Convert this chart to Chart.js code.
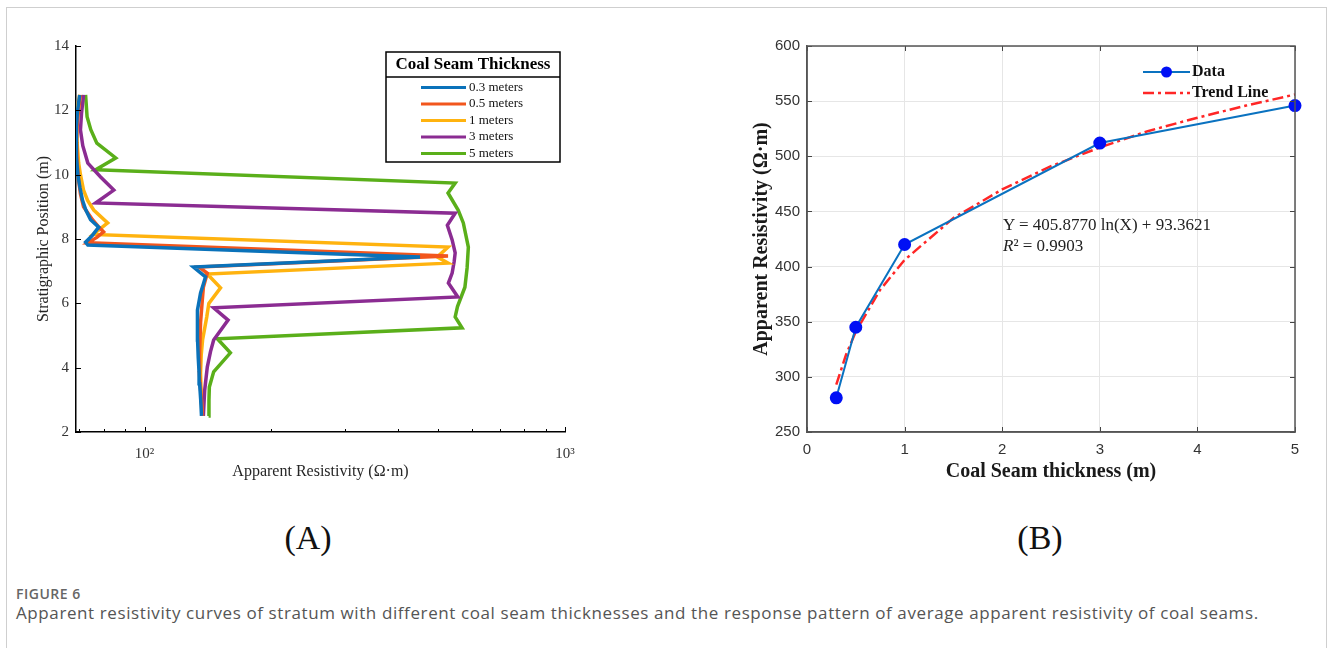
<!DOCTYPE html>
<html>
<head>
<meta charset="utf-8">
<title>Figure 6</title>
<script src="https://cdn.jsdelivr.net/npm/chart.js@4.4.1/dist/chart.umd.min.js"></script>
<style>
  body { margin: 0; background: #fff; }
  #page { position: relative; width: 1330px; height: 648px; overflow: hidden; }
  #frame { position: absolute; left: 6px; top: 7px; width: 1319px; height: 700px; border: 1px solid #cfcfcf; }
  canvas { position: absolute; top: 0; }
  #chartA { left: 0; }
  #chartB { left: 680px; }
  .panel { position: absolute; top: 518px; width: 100px; text-align: center; font: 34px "Liberation Serif", serif; line-height: 40px; color: #111; }
  .eq { position: absolute; left: 1003px; font: 17px "Liberation Serif", serif; line-height: 20px; color: #222; white-space: nowrap; }
  #figLabel { position: absolute; left: 16px; top: 586px; font: 600 14px "Open Sans", sans-serif; line-height: 16px; color: #666; letter-spacing: 0.5px; }
  #caption { position: absolute; left: 16px; top: 602px; font: 17px "Open Sans", sans-serif; line-height: 22px; color: #555; white-space: nowrap; letter-spacing: 0.6px; }
</style>
</head>
<body>
<div id="page">
  <div id="frame"></div>
  <canvas id="chartA" width="620" height="500"></canvas>
  <canvas id="chartB" width="650" height="500"></canvas>
  <div class="eq" style="top:215px">Y = 405.8770 ln(X) + 93.3621</div>
  <div class="eq" style="top:236px"><i>R</i>² = 0.9903</div>
  <div class="panel" style="left:258px">(A)</div>
  <div class="panel" style="left:990px">(B)</div>
  <div id="figLabel">FIGURE 6</div>
  <div id="caption">Apparent resistivity curves of stratum with different coal seam thicknesses and the response pattern of average apparent resistivity of coal seams.</div>
</div>
<script>
// ---- panel A: apparent resistivity vs depth, one curve per seam thickness ----
const legendTitle = "Coal Seam Thickness";
const seamLabels = ["0.3 meters", "0.5 meters", "1 meters", "3 meters", "5 meters"];
const seamColors = ["#0A72BA", "#F2561D", "#FFB30F", "#8B2C92", "#5AAF1A"];

const depth03 = [2.5, 3.0, 3.5, 3.84, 4.3, 4.86, 5.3, 5.79, 6.32, 6.6, 6.82, 7.13, 7.44, 7.81, 7.9, 8.1, 8.37, 8.6, 8.9, 9.2, 9.6, 10.0, 10.5, 11.0, 11.5, 12.0, 12.48];
const rho03 = [136.6, 136, 135.2, 134.8, 134.2, 133.7, 133.5, 133.7, 135.9, 138, 139.6, 130.7, 452, 73.3, 72.4, 75, 77.8, 74.4, 72.5, 71.2, 70.2, 69.4, 68.9, 68.8, 68.9, 69.3, 70.1];

const depth05 = [2.5, 3.0, 3.84, 4.5, 5.4, 6.1, 6.5, 6.94, 7.13, 7.47, 7.88, 8.05, 8.22, 8.4, 8.6, 9.0, 9.4, 9.83, 10.4, 11.08, 11.6, 12.1, 12.48];
const rho05 = [137.3, 136.5, 135, 135.2, 135.9, 137.2, 138, 141, 134.6, 527, 73.3, 77, 79.9, 77.5, 75.2, 71.6, 70.4, 69.7, 69.1, 68.9, 69.2, 69.8, 70.4];

const depth1 = [2.5, 3.2, 3.84, 4.4, 4.86, 5.58, 6.0, 6.48, 6.91, 7.25, 7.44, 7.75, 8.14, 8.5, 8.9, 9.2, 9.52, 10.0, 10.36, 11.0, 11.6, 12.1, 12.48];
const rho1 = [137, 136.3, 135.9, 136.4, 137.4, 140.6, 142.2, 151.6, 141, 527, 497, 527, 75.5, 81.7, 75.7, 73.2, 71.6, 70.4, 69.7, 69.1, 68.9, 69.3, 70.1];

const depth3 = [2.5, 3.3, 4.02, 4.5, 4.86, 5.48, 5.86, 6.2, 6.63, 6.94, 7.3, 7.57, 7.97, 8.43, 8.8, 9.12, 9.52, 9.93, 10.36, 10.9, 11.39, 11.9, 12.48];
const rho3 = [138, 139, 141, 143.5, 146, 158, 146, 556, 528, 539, 545, 548, 539, 525, 548, 76.5, 84.5, 78.6, 73.3, 71.3, 70.4, 70.8, 71.6];

const depth5 = [2.5, 3.0, 3.4, 3.87, 4.46, 4.9, 5.24, 5.58, 5.9, 6.5, 7.1, 7.75, 8.5, 8.9, 9.43, 9.74, 10.15, 10.52, 10.98, 11.4, 11.8, 12.48];
const rho5 = [142, 142.3, 142.6, 146, 160, 149, 569, 548, 555, 578, 585, 589, 573, 557, 527, 548, 76.5, 85.4, 77, 74.5, 73, 72.4];

const depthTicks = [2, 4, 6, 8, 10, 12, 14];
const rhoTicks = [70, 80, 90, 100, 200, 300, 400, 500, 600, 700, 800, 900, 1000];
const rhoMajor = [100, 1000];

// ---- panel B: average apparent resistivity vs seam thickness ----
const thickness = [0.3, 0.5, 1, 3, 5];
const avgRho = [281, 345, 420, 512, 546];
const trendX = [0.3, 0.4, 0.5, 0.75, 1, 1.5, 2, 2.5, 3, 3.5, 4, 4.5, 5];
const trendY = [293, 320, 341, 379, 406, 444, 470, 491, 508, 523, 535, 546, 556];

const serif = '"Liberation Serif", "Times New Roman", serif';
const sans = '"Liberation Sans", Arial, sans-serif';

function pts(xs, ys) {
  return xs.map((v, i) => ({ x: v, y: ys[i] }));
}

// MATLAB style tick marks pointing into the plot
const inTicks = {
  id: "inTicks",
  afterDraw(chart, args, o) {
    const { ctx, chartArea: a } = chart;
    const x = chart.scales.x, y = chart.scales.y;
    ctx.save();
    ctx.strokeStyle = o.color;
    ctx.lineWidth = 1;
    ctx.beginPath();
    x.ticks.forEach(t => {
      const p = Math.round(x.getPixelForValue(t.value)) + 0.5;
      const len = o.major && !o.major.includes(t.value) ? o.minor : o.len;
      ctx.moveTo(p, a.bottom); ctx.lineTo(p, a.bottom - len);
      if (o.box) { ctx.moveTo(p, a.top); ctx.lineTo(p, a.top + len); }
    });
    y.ticks.forEach(t => {
      const p = Math.round(y.getPixelForValue(t.value)) + 0.5;
      ctx.moveTo(a.left, p); ctx.lineTo(a.left + o.len, p);
      if (o.box) { ctx.moveTo(a.right, p); ctx.lineTo(a.right - o.len, p); }
    });
    ctx.stroke();
    if (o.box) {
      ctx.strokeStyle = o.frame;
      ctx.lineWidth = o.frameWidth;
      ctx.strokeRect(a.left, a.top, a.right - a.left, a.bottom - a.top);
    }
    ctx.restore();
  }
};

const legendA = {
  id: "legendA",
  afterDraw(chart) {
    const ctx = chart.ctx;
    ctx.save();
    ctx.fillStyle = "#fff";
    ctx.fillRect(386, 52, 174, 110);
    ctx.strokeStyle = "#000";
    ctx.lineWidth = 1.5;
    ctx.strokeRect(386, 52, 174, 110);
    ctx.beginPath(); ctx.moveTo(386, 77); ctx.lineTo(560, 77); ctx.stroke();
    ctx.fillStyle = "#000";
    ctx.font = "bold 17px " + serif;
    ctx.textAlign = "center";
    ctx.textBaseline = "middle";
    ctx.fillText(legendTitle, 473, 65);
    ctx.font = "13px " + serif;
    ctx.textAlign = "left";
    chart.data.datasets.forEach((ds, i) => {
      const yy = 87.5 + i * 16.5;
      ctx.strokeStyle = ds.borderColor;
      ctx.lineWidth = 3;
      ctx.beginPath(); ctx.moveTo(421, yy); ctx.lineTo(466, yy); ctx.stroke();
      ctx.fillStyle = "#111";
      ctx.fillText(ds.label, 469, yy);
    });
    ctx.restore();
  }
};

const legendB = {
  id: "legendB",
  afterDraw(chart) {
    const ctx = chart.ctx;
    const [d, t] = chart.data.datasets;
    ctx.save();
    ctx.font = "bold 16px " + serif;
    ctx.textBaseline = "middle";
    ctx.strokeStyle = d.borderColor;
    ctx.lineWidth = d.borderWidth;
    ctx.beginPath(); ctx.moveTo(463, 72); ctx.lineTo(510, 72); ctx.stroke();
    ctx.fillStyle = d.pointBackgroundColor;
    ctx.beginPath(); ctx.arc(486.5, 72, 5.5, 0, Math.PI * 2); ctx.fill();
    ctx.fillStyle = "#111";
    ctx.fillText(d.label, 512, 72);
    ctx.setLineDash(t.borderDash);
    ctx.strokeStyle = t.borderColor;
    ctx.lineWidth = t.borderWidth;
    ctx.beginPath(); ctx.moveTo(463, 93); ctx.lineTo(510, 93); ctx.stroke();
    ctx.setLineDash([]);
    ctx.fillText(t.label, 512, 93);
    ctx.restore();
  }
};

const seriesA = [
  pts(rho03, depth03), pts(rho05, depth05), pts(rho1, depth1), pts(rho3, depth3), pts(rho5, depth5)
];

new Chart(document.getElementById("chartA"), {
  type: "scatter",
  data: {
    datasets: seriesA.map((d, i) => ({
      label: seamLabels[i],
      data: d,
      showLine: true,
      borderColor: seamColors[i],
      backgroundColor: seamColors[i],
      borderWidth: 3.5,
      pointRadius: 0,
      tension: 0,
    })),
  },
  options: {
    responsive: false,
    animation: false,
    layout: { padding: { left: 0, top: 46, right: 55, bottom: 0 } },
    plugins: {
      legend: { display: false },
      tooltip: { enabled: false },
      inTicks: { color: "#000", len: 5, minor: 3, major: rhoMajor, box: false },
    },
    scales: {
      x: {
        type: "logarithmic",
        min: 68.7,
        max: 1000,
        afterBuildTicks: s => { s.ticks = rhoTicks.map(v => ({ value: v })); },
        afterFit: s => { s.height = 68; },
        grid: { display: false, drawTicks: false },
        border: { display: true, color: "#000", width: 1.5 },
        ticks: {
          autoSkip: false, maxRotation: 0, minRotation: 0, padding: 13,
          color: "#333", font: { family: serif, size: 15 },
          callback: v => (v === 100 ? "10²" : v === 1000 ? "10³" : ""),
        },
        title: {
          display: true, text: "Apparent Resistivity (Ω·m)", color: "#262626",
          font: { family: serif, size: 16 }, padding: { top: 0, bottom: 18.4 },
        },
      },
      y: {
        min: 2,
        max: 14,
        afterBuildTicks: s => { s.ticks = depthTicks.map(v => ({ value: v })); },
        afterFit: s => { s.width = 76; },
        grid: { display: false, drawTicks: false },
        border: { display: true, color: "#000", width: 1.5 },
        ticks: { padding: 7, color: "#333", font: { family: serif, size: 15 } },
        title: {
          display: true, text: "Stratigraphic Position (m)", color: "#262626",
          font: { family: serif, size: 16 }, padding: { top: 34.4, bottom: 0 },
        },
      },
    },
  },
  plugins: [inTicks, legendA],
});

new Chart(document.getElementById("chartB"), {
  type: "scatter",
  data: {
    datasets: [
      {
        label: "Data",
        data: pts(thickness, avgRho),
        showLine: true,
        borderColor: "#0A72C0",
        borderWidth: 2,
        pointRadius: 5.5,
        pointBackgroundColor: "#0010F5",
        pointBorderColor: "#0010F5",
        clip: false,
      },
      {
        label: "Trend Line",
        data: pts(trendX, trendY),
        showLine: true,
        borderColor: "#FF2626",
        borderWidth: 2.5,
        borderDash: [11, 4, 3, 4],
        pointRadius: 0,
      },
    ],
  },
  options: {
    responsive: false,
    animation: false,
    layout: { padding: { left: 0, top: 46, right: 35, bottom: 0 } },
    plugins: {
      legend: { display: false },
      tooltip: { enabled: false },
      inTicks: { color: "#444", len: 5, box: true, frame: "#555", frameWidth: 1.5 },
    },
    scales: {
      x: {
        min: 0,
        max: 5,
        afterFit: s => { s.height = 68; },
        grid: { color: "#e6e6e6", drawTicks: false },
        border: { display: true, color: "#555", width: 1.5 },
        ticks: { stepSize: 1, padding: 9, color: "#333", font: { family: sans, size: 15 } },
        title: {
          display: true, text: "Coal Seam thickness (m)", color: "#1a1a1a",
          font: { family: serif, size: 20, weight: "bold" }, padding: { top: 0, bottom: 16 },
        },
      },
      y: {
        min: 250,
        max: 600,
        afterFit: s => { s.width = 127; },
        grid: { color: "#e6e6e6", drawTicks: false },
        border: { display: true, color: "#555", width: 1.5 },
        ticks: { stepSize: 50, padding: 7, color: "#333", font: { family: sans, size: 15 } },
        title: {
          display: true, text: "Apparent Resistivity (Ω·m)", color: "#1a1a1a",
          font: { family: serif, size: 20, weight: "bold" }, padding: { top: 70, bottom: 0 },
        },
      },
    },
  },
  plugins: [inTicks, legendB],
});
</script>
</body>
</html>
